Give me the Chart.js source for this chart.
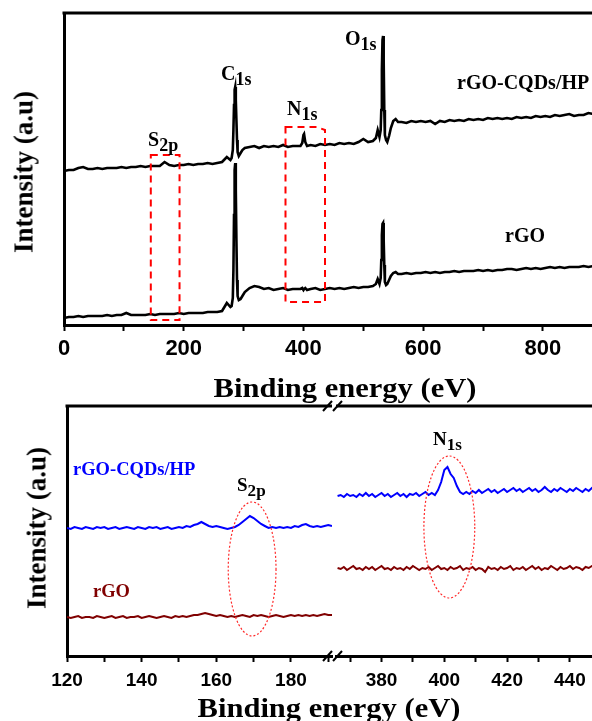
<!DOCTYPE html>
<html>
<head>
<meta charset="utf-8">
<script src="https://cdn.jsdelivr.net/npm/chart.js@4.4.1/dist/chart.umd.min.js"></script>
<style>
  html, body { margin: 0; padding: 0; background: #fff; overflow: hidden; }
  body { width: 592px; height: 721px; position: relative; }
  canvas { position: absolute; left: 0; top: 0; }
  .lbl { position: absolute; font-family: 'Liberation Serif', 'Times New Roman', serif; font-weight: bold;
         line-height: 1; white-space: nowrap; color: #000; }
  .sb { font-size: 0.9em; position: relative; top: 0.27em; }
  .ytitle { transform: translate(-50%, -50%) rotate(-90deg); }
  .xtitle { transform: translateX(-50%) scaleX(1.09); }
</style>
</head>
<body>
<canvas id="survey" width="595" height="721"></canvas>
<canvas id="s2p" width="595" height="721"></canvas>
<canvas id="n1s" width="595" height="721"></canvas>

<!-- top panel texts -->
<div class="lbl" style="left:148px;top:129px;font-size:20px">S<span class="sb">2p</span></div>
<div class="lbl" style="left:221px;top:63px;font-size:20px">C<span class="sb">1s</span></div>
<div class="lbl" style="left:287px;top:98px;font-size:20px">N<span class="sb">1s</span></div>
<div class="lbl" style="left:345px;top:28px;font-size:20px">O<span class="sb">1s</span></div>
<div class="lbl" style="left:457px;top:72px;font-size:20px">rGO-CQDs/HP</div>
<div class="lbl" style="left:505px;top:225px;font-size:20px">rGO</div>
<div class="lbl xtitle" style="left:345px;top:374px;font-size:28px">Binding energy (eV)</div>
<div class="lbl ytitle" style="left:24px;top:172px;font-size:27px">Intensity (a.u)</div>

<!-- bottom panel texts -->
<div class="lbl" style="left:73px;top:460px;font-size:18.5px;color:#0000ff">rGO-CQDs/HP</div>
<div class="lbl" style="left:93px;top:582px;font-size:18.5px;color:#800000">rGO</div>
<div class="lbl" style="left:237px;top:475px;font-size:19px">S<span class="sb">2p</span></div>
<div class="lbl" style="left:433px;top:429px;font-size:19px">N<span class="sb">1s</span></div>
<div class="lbl xtitle" style="left:329px;top:694px;font-size:28px">Binding energy (eV)</div>
<div class="lbl ytitle" style="left:37px;top:528px;font-size:27px">Intensity (a.u)</div>

<script>
/* ---- survey spectra (top panel), intensity in a.u. ---- */
const surveyEnergy = [
  0, 8, 16, 24, 32, 40, 48, 56, 64, 72, 80, 88, 96, 104, 112, 120, 128, 136, 144, 152,
  160, 168, 176, 184, 192, 200, 208, 216, 224, 232, 240, 248, 256, 264, 272,
  278, 280, 282, 283, 284, 285, 286, 287, 288, 289, 290, 292, 295, 298, 302,
  310, 318, 326, 334, 342, 350, 358, 366, 374, 382, 390,
  395, 398, 400, 401, 403, 406,
  412, 420, 428, 436, 444, 452, 460, 468, 476, 484, 492, 500, 508, 516,
  521, 524, 527, 529, 530, 531, 532, 533, 534, 535, 536, 538, 540, 543, 546, 550, 554, 558,
  564, 572, 580, 588, 596, 604, 612, 620, 628, 636, 644, 652, 660, 668, 676, 684, 692, 700,
  708, 716, 724, 732, 740, 748, 756, 764, 772, 780, 788, 796, 804, 812, 820, 828, 836, 844,
  852, 860, 868, 876, 884, 888
];
const surveyHybrid = [
  154, 155, 155, 157, 158, 156, 156, 157, 156, 157, 157, 157, 158, 157, 158, 158, 159, 158, 159, 159,
  159, 163, 160, 159, 160, 160, 161, 160, 161, 161, 162, 161, 162, 163, 168,
  165, 167, 175, 195, 220, 235, 238, 225, 205, 185, 173, 169, 172, 175, 177,
  178, 179, 177, 179, 178, 179, 178, 180, 178, 179, 179,
  179, 182, 190, 191, 183, 179,
  180, 179, 181, 180, 181, 180, 182, 181, 182, 181, 183, 186, 183, 184,
  187, 195, 188, 195, 215, 255, 285, 289, 265, 215, 190, 185, 183, 189, 197, 204, 206, 203,
  203, 202, 204, 203, 204, 203, 204, 201, 204, 203, 205, 204, 205, 204, 206, 205, 206, 205,
  207, 206, 207, 206, 207, 206, 208, 207, 208, 207, 209, 208, 209, 208, 210, 209, 210, 211,
  209, 210, 210, 212, 211, 211
];
const surveyRGO = [
  7, 8, 8, 9, 8, 9, 9, 9, 9, 10, 9, 10, 10, 12, 10, 10, 10, 10, 11, 10,
  11, 11, 11, 11, 12, 11, 12, 12, 12, 12, 13, 13, 13, 14, 22,
  18, 19, 27, 55, 110, 155, 162, 135, 85, 45, 29, 25, 26, 29, 33,
  37, 39, 38, 36, 37, 35, 36, 37, 35, 36, 36,
  36, 37, 35, 36, 37, 35,
  36, 37, 35, 36, 37, 36, 37, 36, 37, 38, 37, 38, 38, 39,
  41, 46, 41, 47, 65, 90, 101, 102, 85, 60, 43, 40, 41, 45, 49, 52, 53, 51,
  51, 52, 51, 52, 52, 53, 52, 53, 52, 53, 53, 54, 53, 54, 54, 54, 55, 54,
  55, 54, 55, 55, 56, 56, 55, 56, 57, 56, 57, 56, 57, 58, 57, 58, 57, 58,
  58, 58, 59, 58, 59, 58
];
const surveyTickLabels = [0, 200, 400, 600, 800];

/* ---- S 2p window (bottom left) ---- */
const s2pEnergy = [
  120, 121, 122, 123, 124, 125, 126, 127, 128, 129, 130, 131, 132, 133, 134, 135, 136, 137, 138, 139,
  140, 141, 142, 143, 144, 145, 146, 147, 148, 149, 150, 151, 152, 153, 154, 155, 156, 157, 158, 159,
  160, 161, 162, 163, 164, 165, 166, 167, 168, 169, 170, 171, 172, 173, 174, 175, 176, 177, 178, 179,
  180, 181, 182, 183, 184, 185, 186, 187, 188, 189, 190, 191
];
const s2pHybrid = [
  128, 127, 129, 128, 127, 129, 128, 127, 129, 128, 129, 127, 128, 129, 127, 128, 129, 128, 127, 129,
  128, 127, 129, 128, 129, 127, 128, 129, 127, 128, 129, 128, 130, 129, 131, 132, 134, 132, 130, 129,
  130, 129, 128, 127, 128, 129, 131, 134, 137, 140, 138, 135, 132, 130, 128, 129, 128, 129, 128, 129,
  128, 130, 129, 131, 132, 130, 129, 130, 129, 130, 131, 130
];
const s2pRGO = [
  39, 38, 39, 40, 38, 39, 39, 38, 40, 39, 38, 39, 40, 38, 39, 40, 38, 39, 39, 40,
  38, 39, 40, 39, 38, 39, 40, 39, 38, 40, 39, 40, 39, 40, 41, 41, 42, 43, 42, 41,
  40, 41, 40, 39, 40, 39, 40, 41, 40, 39, 41, 40, 41, 40, 39, 40, 41, 40, 39, 40,
  41, 40, 41, 40, 41, 40, 41, 40, 41, 42, 41, 41
];
const s2pTickLabels = [120, 140, 160, 180];

/* ---- N 1s window (bottom right) ---- */
const n1sEnergy = [
  366, 367, 368, 369, 370, 371, 372, 373, 374, 375, 376, 377, 378, 379, 380, 381, 382, 383, 384, 385,
  386, 387, 388, 389, 390, 391, 392, 393, 394, 395, 396, 397, 398, 399, 400, 401, 402, 403, 404, 405,
  406, 407, 408, 409, 410, 411, 412, 413, 414, 415, 416, 417, 418, 419, 420, 421, 422, 423, 424, 425,
  426, 427, 428, 429, 430, 431, 432, 433, 434, 435, 436, 437, 438, 439, 440, 441, 442, 443, 444, 445,
  446, 447, 448
];
const n1sHybrid = [
  160, 161, 159, 162, 160, 161, 159, 162, 160, 163, 160, 162, 159, 161, 163, 160, 162, 159, 161, 163,
  160, 162, 159, 162, 161, 163, 160, 162, 164, 161, 163, 161, 166, 174, 186, 189, 182, 178, 170, 164,
  162, 164, 162, 165, 163, 166, 163, 165, 167, 164, 166, 163, 165, 167, 164, 166, 168, 165, 167, 164,
  166, 168, 165, 167, 164, 166, 169, 166, 164, 167, 165, 168, 166, 164, 167, 165, 168, 166, 164, 167,
  165, 168, 166
];
const n1sRGO = [
  88, 87, 89, 86, 88, 90, 87, 88, 86, 89, 87, 89, 86, 88, 90, 87, 88, 86, 89, 87,
  88, 86, 89, 87, 90, 88, 86, 88, 87, 89, 86, 88, 90, 87, 88, 86, 89, 87, 88, 90,
  86, 88, 87, 89, 86, 88, 87, 84, 89, 87, 88, 86, 89, 87, 88, 90, 86, 88, 87, 89,
  86, 88, 90, 87, 89, 86, 88, 87, 90, 88, 86, 89, 87, 88, 90, 87, 89, 88, 86, 89,
  88, 90, 89
];
const n1sTickLabels = [380, 400, 420, 440];

/* highlighted regions, in (eV, a.u.) */
const surveyBoxes = [
  [[145, 170], [193, 170], [193, 5], [145, 5]],
  [[370, 198], [422, 198], [436, 195], [436, 23], [370, 23]],
];
const s2pRing = { e: 169.6, i: 87, re: 6.4, ri: 67 };
const n1sRing = { e: 401.6, i: 129, re: 8.1, ri: 71 };

/* ──── helpers ─────────────────────────────────────────── */

const pts = (xs, ys) => xs.map((x, i) => ({ x, y: ys[i] }));

function line(data, color, width) {
  return { data, borderColor: color, borderWidth: width, pointRadius: 0, tension: 0, fill: false };
}

// x axis with a fixed box height so the chart area lands where we want it
function xAxis(min, max, labels, fontSize, pad, boxH) {
  const step = labels[1] - labels[0];
  return {
    type: 'linear', min, max,
    afterFit: s => { s.height = boxH; },
    border: { color: '#000', width: 3 },
    grid: { drawOnChartArea: false, drawTicks: true, tickLength: 6, tickWidth: 2, tickColor: '#000' },
    ticks: {
      stepSize: step / 2, includeBounds: false, autoSkip: false, maxRotation: 0, padding: pad,
      color: '#000', font: { family: "'Liberation Sans', Arial, sans-serif", weight: 'bold', size: fontSize },
      callback: v => labels.includes(v) ? String(v) : '',
    },
  };
}

function yAxis(max, showBorder) {
  return {
    display: showBorder, min: 0, max,
    afterFit: s => { s.width = 0; },
    border: { color: '#000', width: 3 },
    grid: { drawOnChartArea: false, drawTicks: false },
    ticks: { display: false },
  };
}

const framePlugin = {
  id: 'frame',
  afterDraw(chart, args, opts) {
    const { ctx, chartArea: a } = chart;
    ctx.save();
    ctx.strokeStyle = '#000';
    ctx.lineWidth = 3;
    ctx.beginPath();
    ctx.moveTo(a.left - (opts.fromLeft ? 1.5 : 0), a.top);
    ctx.lineTo(opts.toEdge ? chart.width : a.right, a.top);
    ctx.stroke();
    if (opts.breakMarks) {
      ctx.lineWidth = 2;
      [a.top, a.bottom].forEach(yy => {
        [-13, -3].forEach(dx => {
          ctx.beginPath();
          ctx.moveTo(a.left + dx, yy + 5);
          ctx.lineTo(a.left + dx + 9, yy - 5);
          ctx.stroke();
        });
      });
    }
    ctx.restore();
  },
};

const boxPlugin = {
  id: 'boxes',
  afterDatasetsDraw(chart, args, opts) {
    const { ctx, scales: { x, y } } = chart;
    ctx.save();
    ctx.strokeStyle = '#ff0000';
    ctx.lineWidth = 2;
    ctx.setLineDash([7, 5]);
    opts.items.forEach(box => {
      ctx.beginPath();
      box.forEach(([e, v], k) => {
        const px = x.getPixelForValue(e), py = y.getPixelForValue(v);
        if (k) ctx.lineTo(px, py); else ctx.moveTo(px, py);
      });
      ctx.closePath();
      ctx.stroke();
    });
    ctx.restore();
  },
};

const ringPlugin = {
  id: 'ring',
  afterDatasetsDraw(chart, args, opts) {
    const { ctx, scales: { x, y } } = chart;
    const r = opts.ring;
    const cx = x.getPixelForValue(r.e), cy = y.getPixelForValue(r.i);
    const rx = Math.abs(x.getPixelForValue(r.e + r.re) - cx);
    const ry = Math.abs(y.getPixelForValue(r.i + r.ri) - cy);
    ctx.save();
    ctx.strokeStyle = '#ff2a2a';
    ctx.lineWidth = 1.2;
    ctx.setLineDash([2, 2]);
    ctx.beginPath();
    ctx.ellipse(cx, cy, rx, ry, 0, 0, Math.PI * 2);
    ctx.stroke();
    ctx.restore();
  },
};

const base = {
  responsive: false, animation: false, devicePixelRatio: 1, events: [],
};

/* ──── top : survey ─────────────────────────────────────── */

new Chart(document.getElementById('survey'), {
  type: 'line',
  data: {
    datasets: [
      line(pts(surveyEnergy, surveyHybrid), '#000', 2.6),
      line(pts(surveyEnergy, surveyRGO), '#000', 2.6),
    ],
  },
  options: {
    ...base,
    layout: { padding: { left: 64, top: 13, right: 0, bottom: 721 - 325 - 45 } },
    plugins: {
      legend: { display: false }, tooltip: { enabled: false },
      frame: { toEdge: true, fromLeft: true },
      boxes: { items: surveyBoxes },
    },
    scales: {
      x: xAxis(0, 887, surveyTickLabels, 22, 5, 45),
      y: yAxis(312, true),
    },
  },
  plugins: [framePlugin, boxPlugin],
});

/* ──── bottom left : S 2p ───────────────────────────────── */

new Chart(document.getElementById('s2p'), {
  type: 'line',
  data: {
    datasets: [
      line(pts(s2pEnergy, s2pHybrid), '#0000ff', 2),
      line(pts(s2pEnergy, s2pRGO), '#800000', 2),
    ],
  },
  options: {
    ...base,
    layout: { padding: { left: 67, top: 406, right: 595 - 332, bottom: 721 - 656 - 40 } },
    plugins: {
      legend: { display: false }, tooltip: { enabled: false },
      frame: { fromLeft: true },
      ring: { ring: s2pRing },
    },
    scales: {
      x: xAxis(120, 191, s2pTickLabels, 19, 7, 40),
      y: yAxis(250, true),
    },
  },
  plugins: [framePlugin, ringPlugin],
});

/* ──── bottom right : N 1s ──────────────────────────────── */

new Chart(document.getElementById('n1s'), {
  type: 'line',
  data: {
    datasets: [
      line(pts(n1sEnergy, n1sHybrid), '#0000ff', 2),
      line(pts(n1sEnergy, n1sRGO), '#800000', 2),
    ],
  },
  options: {
    ...base,
    layout: { padding: { left: 336, top: 406, right: 0, bottom: 721 - 656 - 40 } },
    plugins: {
      legend: { display: false }, tooltip: { enabled: false },
      frame: { toEdge: true, breakMarks: true },
      ring: { ring: n1sRing },
    },
    scales: {
      x: xAxis(365.5, 448, n1sTickLabels, 19, 7, 40),
      y: yAxis(250, false),
    },
  },
  plugins: [framePlugin, ringPlugin],
});
</script>
</body>
</html>
